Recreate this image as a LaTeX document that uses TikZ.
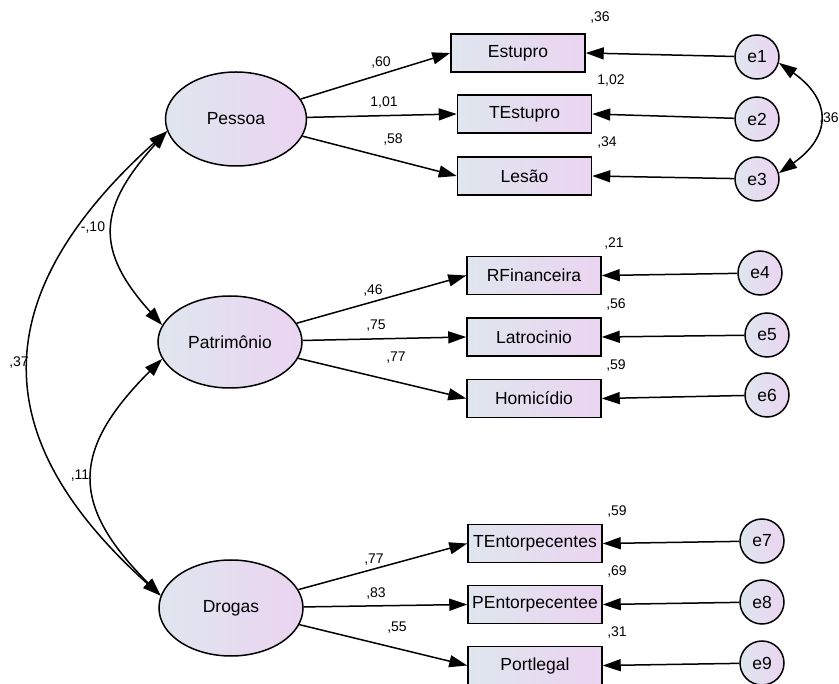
\documentclass[tikz,border=0pt]{standalone}
\usepackage{fontspec}
\setmainfont{Liberation Sans}
\usetikzlibrary{arrows.meta,shapes.geometric}
\definecolor{fillL}{HTML}{DFE6EE}
\definecolor{fillR}{HTML}{EBD4F1}
\begin{document}
\begin{tikzpicture}[x=1pt,y=1pt,
  lat/.style={ellipse,draw,line width=1.5pt,left color=fillL,right color=fillR,inner sep=0pt,font=\fontsize{17.5}{20}\selectfont},
  obs/.style={rectangle,draw,line width=1.5pt,left color=fillL,right color=fillR,inner sep=0pt,minimum width=134pt,minimum height=38pt,font=\fontsize{17.5}{20}\selectfont},
  err/.style={circle,draw,line width=1.5pt,left color=fillL,right color=fillR,inner sep=0pt,minimum size=44pt,font=\fontsize{17.5}{20}\selectfont},
  arr/.style={-{Triangle[length=18pt,width=12pt]},line width=1.5pt},
  cov/.style={{Triangle[length=18pt,width=12pt]}-{Triangle[length=18pt,width=12pt]},line width=1.5pt},
  lbl/.style={font=\fontsize{14}{16}\selectfont,inner sep=0pt}]
\useasboundingbox (0,0) rectangle (839,-684);
% latent
\node[lat,minimum width=141pt,minimum height=94pt] (pessoa) at (236,-119) {Pessoa};
\node[lat,minimum width=144pt,minimum height=92pt] (patrimonio) at (230,-342) {Patrimônio};
\node[lat,minimum width=144pt,minimum height=96pt] (drogas) at (231,-608) {Drogas};
% observed
\node[obs] (estupro) at (518,-53) {Estupro};
\node[obs] (testupro) at (524.5,-114) {TEstupro};
\node[obs] (lesao) at (524.5,-176) {Lesão};
\node[obs] (rfin) at (534,-275.5) {RFinanceira};
\node[obs] (latro) at (534,-337) {Latrocinio};
\node[obs] (homic) at (534,-398.5) {Homicídio};
\node[obs] (tent) at (535,-543.5) {TEntorpecentes};
\node[obs] (pent) at (535,-604.5) {PEntorpecentee};
\node[obs] (portl) at (535,-665.5) {Portlegal};
% errors
\node[err] (e1) at (757,-57) {e1};
\node[err] (e2) at (757,-119) {e2};
\node[err] (e3) at (757,-179) {e3};
\node[err] (e4) at (760,-273) {e4};
\node[err] (e5) at (767,-335) {e5};
\node[err] (e6) at (767,-395) {e6};
\node[err] (e7) at (762,-541) {e7};
\node[err] (e8) at (762,-602) {e8};
\node[err] (e9) at (762,-663) {e9};
% loadings
\draw[arr] (pessoa) -- (estupro.west);
\draw[arr] (pessoa) -- (testupro.west);
\draw[arr] (pessoa) -- (lesao.west);
\draw[arr] (patrimonio) -- (rfin.west);
\draw[arr] (patrimonio) -- (latro.west);
\draw[arr] (patrimonio) -- (homic.west);
\draw[arr] (drogas) -- (tent.west);
\draw[arr] (drogas) -- (pent.west);
\draw[arr] (drogas) -- (portl.west);
% error paths
\draw[arr] (e1) -- (estupro.east);
\draw[arr] (e2) -- (testupro.east);
\draw[arr] (e3) -- (lesao.east);
\draw[arr] (e4) -- (rfin.east);
\draw[arr] (e5) -- (latro.east);
\draw[arr] (e6) -- (homic.east);
\draw[arr] (e7) -- (tent.east);
\draw[arr] (e8) -- (pent.east);
\draw[arr] (e9) -- (portl.east);
% covariances
\draw[cov] (pessoa.190) to[out=228,in=132,looseness=1.35] (patrimonio.166);
\draw[cov] (pessoa.190) .. controls +(222:280) and +(138:200) .. (drogas.170);
\draw[cov] (patrimonio.194) to[out=225,in=135,looseness=1.39] (drogas.170);
\draw[cov] (e1.-15) to[out=-35,in=35,looseness=1.5] (e3.15);
% labels: loadings
\node[lbl] (l1) at (381,-63) {,60};
\node[lbl] (l2) at (384,-103) {1,01};
\node[lbl] (l3) at (393,-140) {,58};
\node[lbl] (l4) at (373,-291) {,46};
\node[lbl] (l5) at (376,-326) {,75};
\node[lbl] (l6) at (396,-358) {,77};
\node[lbl] (l7) at (374,-560) {,77};
\node[lbl] (l8) at (376,-594) {,83};
\node[lbl] (l9) at (397,-628) {,55};
% labels: R2
\node[lbl] (r1) at (600,-18) {,36};
\node[lbl] (r2) at (611,-81) {1,02};
\node[lbl] (r3) at (607,-143) {,34};
\node[lbl] (r4) at (614,-244) {,21};
\node[lbl] (r5) at (616,-305) {,56};
\node[lbl] (r6) at (616,-366) {,59};
\node[lbl] (r7) at (617,-512) {,59};
\node[lbl] (r8) at (617,-572) {,69};
\node[lbl] (r9) at (617,-633) {,31};
% labels: covariances
\node[lbl] (c1) at (93,-228) {-,10};
\node[lbl] (c2) at (19,-363) {,37};
\node[lbl] (c3) at (80,-476) {,11};
\node[lbl] (c4) at (829,-119) {,36};
\end{tikzpicture}
\end{document}
